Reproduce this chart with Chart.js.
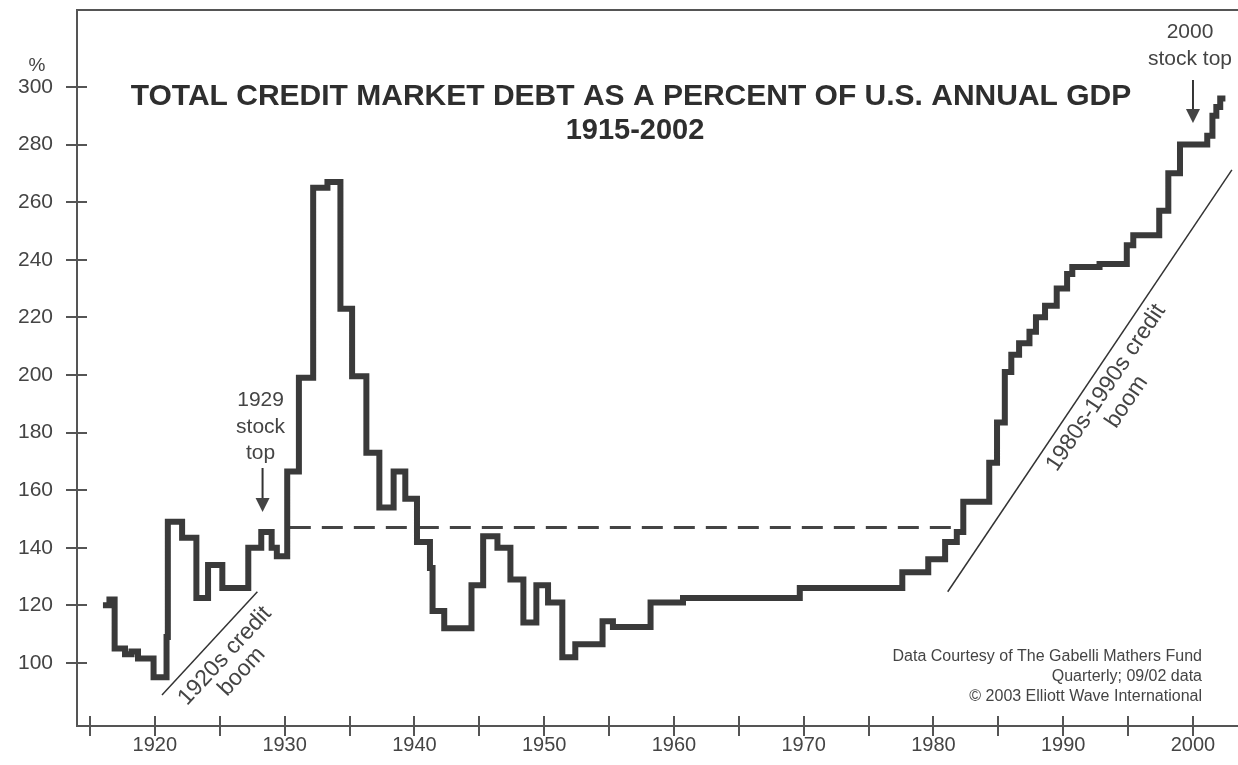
<!DOCTYPE html>
<html>
<head>
<meta charset="utf-8">
<title>Total Credit Market Debt as a Percent of U.S. Annual GDP</title>
<script src="https://cdn.jsdelivr.net/npm/chart.js@4.4.1/dist/chart.umd.min.js"></script>
<style>
    html, body { margin: 0; padding: 0; background: #fff; }
    #wrap { width: 1238px; height: 765px; }
</style>
</head>
<body>
<div id="wrap"><canvas id="debtChart" width="1238" height="765"></canvas></div>
<script>
// Step starts (year) and debt as % of GDP
const stepYears = [
    1916.0, 1916.5, 1916.9, 1917.7, 1918.2, 1918.7, 1919.9, 1920.9, 1921.0, 1922.1,
    1923.2, 1924.1, 1925.2, 1927.2, 1928.2, 1929.0, 1929.4, 1930.2, 1931.1, 1932.2,
    1933.3, 1934.3, 1935.2, 1936.3, 1937.3, 1938.4, 1939.3, 1940.2, 1941.2, 1941.4,
    1942.3, 1944.4, 1945.3, 1946.4, 1947.4, 1948.4, 1949.4, 1950.3, 1951.4, 1952.4,
    1954.5, 1955.3, 1958.2, 1960.7, 1969.7, 1977.6, 1979.6, 1980.9, 1981.8, 1982.3,
    1984.3, 1984.9, 1985.5, 1986.0, 1986.6, 1987.4, 1987.9, 1988.6, 1989.5, 1990.3,
    1990.7, 1992.8, 1994.9, 1995.4, 1997.4, 1998.1, 1999.0, 2001.1, 2001.5, 2001.8,
    2002.1, 2002.5
];
const debtPct = [
    120, 122, 105, 103, 104, 101.5, 95, 109, 149, 143.5,
    122.5, 134, 126, 140, 145.5, 140, 137, 166.5, 199, 265,
    267, 223, 199.5, 173, 154, 166.5, 157, 142, 133, 118,
    112, 127, 144, 140, 129, 114, 127, 121, 102, 106.5,
    114.5, 112.5, 121, 122.5, 126, 131.5, 136, 142, 145.5, 156,
    169.5, 183.5, 201, 207, 211, 215, 220, 224, 230, 235,
    237.5, 238.5, 245, 248.5, 257, 270, 280, 283, 290, 293,
    296, 296
];

// 1929 level carried forward (dashed)
const refYears = [1930.4, 1981.8];
const refPct = [147, 147];

// trend lines under the two credit booms
const boom20sYears = [1920.55, 1927.9];
const boom20sPct = [88.9, 124.7];
const boom80sYears = [1981.1, 2003.0];
const boom80sPct = [124.7, 271.2];

// axes
const xTickYears = [1915, 1920, 1925, 1930, 1935, 1940, 1945, 1950, 1955, 1960, 1965, 1970, 1975, 1980, 1985, 1990, 1995, 2000];
const xLabelYears = [1920, 1930, 1940, 1950, 1960, 1970, 1980, 1990, 2000];
const yTicks = [100, 120, 140, 160, 180, 200, 220, 240, 260, 280, 300];

const FONT = "'Liberation Sans', Arial, Helvetica, sans-serif";
const INK = '#3a3a3a';

function toPoints(xs, ys) {
    return xs.map((x, i) => ({ x: x, y: ys[i] }));
}

// tick marks that cross both axes
const crossTicks = {
    id: 'crossTicks',
    afterDraw(chart) {
        const { ctx, scales: { x, y } } = chart;
        ctx.save();
        ctx.strokeStyle = '#555';
        ctx.lineWidth = 2;
        ctx.beginPath();
        xTickYears.forEach(v => {
            const px = Math.round(x.getPixelForValue(v));
            ctx.moveTo(px, x.top - 10);
            ctx.lineTo(px, x.top + 10);
        });
        yTicks.forEach(v => {
            const py = Math.round(y.getPixelForValue(v));
            ctx.moveTo(y.right - 11, py);
            ctx.lineTo(y.right + 10, py);
        });
        ctx.stroke();
        ctx.restore();
    }
};

function arrowDown(ctx, px, top, tip) {
    ctx.beginPath();
    ctx.moveTo(px, top);
    ctx.lineTo(px, tip - 12);
    ctx.stroke();
    ctx.beginPath();
    ctx.moveTo(px - 7, tip - 14);
    ctx.lineTo(px + 7, tip - 14);
    ctx.lineTo(px, tip);
    ctx.closePath();
    ctx.fill();
}

function rotatedNote(ctx, cx, cy, angle, lines, gap) {
    ctx.save();
    ctx.translate(cx, cy);
    ctx.rotate(angle);
    lines.forEach((t, i) => ctx.fillText(t, 0, i * gap));
    ctx.restore();
}

// titles, notes and arrows
const notes = {
    id: 'notes',
    afterDraw(chart) {
        const { ctx, scales: { x, y } } = chart;
        ctx.save();
        ctx.fillStyle = '#2e2e2e';
        ctx.strokeStyle = '#333';
        ctx.textAlign = 'center';
        ctx.textBaseline = 'middle';

        ctx.font = 'bold 30px ' + FONT;
        ctx.fillText('TOTAL CREDIT MARKET DEBT AS A PERCENT OF U.S. ANNUAL GDP', 631, 97);
        ctx.font = 'bold 29px ' + FONT;
        ctx.fillText('1915-2002', 635, 131);

        ctx.fillStyle = '#444';
        ctx.font = '19px ' + FONT;
        ctx.fillText('%', 37, 66);

        // 1929 stock top
        ctx.font = '21px ' + FONT;
        const a29 = x.getPixelForValue(1928.3);
        ctx.fillText('1929', a29 - 2, 400);
        ctx.fillText('stock', a29 - 2, 427);
        ctx.fillText('top', a29 - 2, 453);
        ctx.lineWidth = 2;
        arrowDown(ctx, a29, 468, 512);

        // 2000 stock top
        const a00 = x.getPixelForValue(2000);
        ctx.fillText('2000', 1190, 32);
        ctx.fillText('stock top', 1190, 59);
        arrowDown(ctx, a00, 80, 123);

        // boom labels, parallel to their trend lines
        ctx.font = '23px ' + FONT;
        const ang20 = Math.atan2(
            y.getPixelForValue(boom20sPct[1]) - y.getPixelForValue(boom20sPct[0]),
            x.getPixelForValue(boom20sYears[1]) - x.getPixelForValue(boom20sYears[0]));
        rotatedNote(ctx, x.getPixelForValue(1925.4), y.getPixelForValue(102.4), ang20,
            ['1920s credit', 'boom'], 23);
        const ang80 = Math.atan2(
            y.getPixelForValue(boom80sPct[1]) - y.getPixelForValue(boom80sPct[0]),
            x.getPixelForValue(boom80sYears[1]) - x.getPixelForValue(boom80sYears[0]));
        rotatedNote(ctx, x.getPixelForValue(1993.3), y.getPixelForValue(195.5), ang80,
            ['1980s-1990s credit', 'boom'], 25);

        // source
        ctx.font = '16px ' + FONT;
        ctx.textAlign = 'right';
        ctx.fillText('Data Courtesy of The Gabelli Mathers Fund', 1202, 657);
        ctx.fillText('Quarterly; 09/02 data', 1202, 677);
        ctx.fillText('\u00A9 2003 Elliott Wave International', 1202, 697);
        ctx.restore();
    }
};

const ctx = document.getElementById('debtChart');
new Chart(ctx, {
    type: 'line',
    data: {
        datasets: [
            {
                data: toPoints(stepYears, debtPct),
                stepped: 'before',
                borderColor: INK,
                borderWidth: 6,
                borderJoinStyle: 'miter',
                borderCapStyle: 'butt',
                pointRadius: 0,
                xAxisID: 'x',
                yAxisID: 'y'
            },
            {
                data: toPoints(refYears, refPct),
                borderColor: '#444',
                borderWidth: 3,
                borderDash: [21, 11],
                pointRadius: 0,
                xAxisID: 'x',
                yAxisID: 'y'
            },
            {
                data: toPoints(boom20sYears, boom20sPct),
                borderColor: '#333',
                borderWidth: 1.5,
                pointRadius: 0,
                xAxisID: 'x',
                yAxisID: 'y'
            },
            {
                data: toPoints(boom80sYears, boom80sPct),
                borderColor: '#333',
                borderWidth: 1.5,
                pointRadius: 0,
                xAxisID: 'x',
                yAxisID: 'y'
            }
        ]
    },
    options: {
        responsive: false,
        devicePixelRatio: 1,
        animation: false,
        layout: { padding: 0 },
        plugins: {
            legend: { display: false },
            tooltip: { enabled: false }
        },
        scales: {
            x: {
                type: 'linear',
                position: 'bottom',
                min: 1914.0,
                max: 2003.47,
                grid: { display: false, drawTicks: true, tickLength: 10 },
                border: { display: true, color: '#555', width: 2 },
                afterBuildTicks: s => { s.ticks = xTickYears.map(v => ({ value: v })); },
                afterFit: s => { s.height = 39; },
                ticks: {
                    autoSkip: false,
                    maxRotation: 0,
                    padding: 0,
                    color: '#444',
                    font: { family: FONT, size: 20, lineHeight: 0.9 },
                    callback: v => xLabelYears.includes(v) ? String(v) : ''
                }
            },
            xTop: {
                type: 'linear',
                position: 'top',
                grid: { display: false, drawTicks: false },
                border: { display: true, color: '#555', width: 2 },
                ticks: { display: false },
                afterFit: s => { s.height = 10; }
            },
            y: {
                type: 'linear',
                position: 'left',
                min: 78.1,
                max: 326.7,
                grid: { display: false, drawTicks: true, tickLength: 24 },
                border: { display: true, color: '#555', width: 2 },
                afterBuildTicks: s => { s.ticks = yTicks.map(v => ({ value: v })); },
                afterFit: s => { s.width = 77; },
                ticks: {
                    padding: 0,
                    color: '#444',
                    font: { family: FONT, size: 21, lineHeight: 0.9 }
                }
            }
        }
    },
    plugins: [crossTicks, notes]
});
</script>
</body>
</html>
